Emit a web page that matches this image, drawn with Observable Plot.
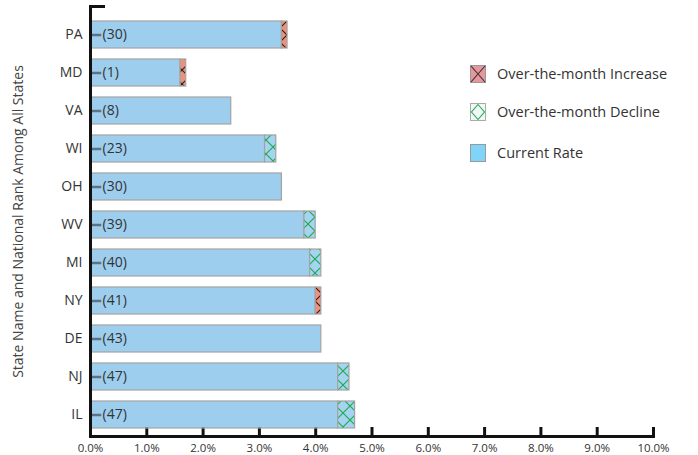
<!DOCTYPE html>
<html>
<head>
<meta charset="utf-8">
<script src="https://cdn.jsdelivr.net/npm/d3@7"></script>
<script src="https://cdn.jsdelivr.net/npm/@observablehq/plot@0.6"></script>
<style>
  body { margin: 0; background: #fff; font-family: "Open Sans", sans-serif; }
  #wrap { position: relative; width: 698px; height: 455px; }
  .legend-item { position: absolute; left: 470px; display: flex; align-items: center; font-size: 14.5px; color: #333; white-space: nowrap; }
  .legend-item svg { margin-right: 11px; display: block; }
</style>
</head>
<body>
<!-- hatch fills shared by the bars and the legend swatches -->
<svg width="0" height="0" style="position:absolute">
  <defs>
    <pattern id="hatch-up" patternUnits="userSpaceOnUse" width="14" height="14">
      <rect width="14" height="14" fill="#ef9079"></rect>
      <path d="M0,0L14,14M14,0L0,14" stroke="#222" stroke-width="1.1" fill="none"></path>
    </pattern>
    <pattern id="hatch-down" patternUnits="userSpaceOnUse" width="14" height="14">
      <rect width="14" height="14" fill="#a6d3f0"></rect>
      <path d="M0,0L14,14M14,0L0,14" stroke="#1aab4b" stroke-width="1.1" fill="none"></path>
    </pattern>
  </defs>
</svg>
<div id="wrap"></div>
<script>
// States in display order, their national rank, and unemployment rates (%)
const states   = ["PA", "MD", "VA", "WI", "OH", "WV", "MI", "NY", "DE", "NJ", "IL"];
const ranks    = [30, 1, 8, 23, 30, 39, 40, 41, 43, 47, 47];
const current  = [3.5, 1.7, 2.5, 3.1, 3.4, 3.8, 3.9, 4.1, 4.1, 4.4, 4.4];
const previous = [3.4, 1.6, 2.5, 3.3, 3.4, 4.0, 4.1, 4.0, 4.1, 4.6, 4.7];
const xTicks   = [0, 1, 2, 3, 4, 5, 6, 7, 8, 9, 10];
const legendLabels = ["Over-the-month Increase", "Over-the-month Decline", "Current Rate"];
const yLabel = "State Name and National Rank Among All States";

const rows = states.map((state, i) => ({
  state,
  rank: ranks[i],
  current: current[i],
  previous: previous[i],
  lo: Math.min(current[i], previous[i]),
  hi: Math.max(current[i], previous[i])
}));
const ups = rows.filter(d => d.current > d.previous);
const downs = rows.filter(d => d.current < d.previous);

const chart = Plot.plot({
  width: 698,
  height: 455,
  marginLeft: 90,
  marginRight: 45,
  marginTop: 6,
  marginBottom: 19,
  style: { fontFamily: "Open Sans, sans-serif", fontSize: "11px", color: "#333", background: "#fff" },
  x: { domain: [0, 10] },
  y: { domain: states, paddingInner: 0.282, paddingOuter: 0.154, align: 0.667 },
  marks: [
    // upward tick marks on the x axis (show through the translucent bars)
    Plot.ruleX(xTicks, { insetTop: 421, stroke: "#111", strokeWidth: 3 }),
    // current rate (or lower of the two months)
    Plot.barX(rows, { y: "state", x1: 0, x2: "lo", fill: "#5dade3", fillOpacity: 0.6, stroke: "#a3a3a3", strokeWidth: 1.2 }),
    // month-over-month change segments
    Plot.barX(ups, { y: "state", x1: "lo", x2: "hi", fill: "url(#hatch-up)", stroke: "#a3a3a3", strokeWidth: 1.2 }),
    Plot.barX(downs, { y: "state", x1: "lo", x2: "hi", fill: "url(#hatch-down)", stroke: "#a3a3a3", strokeWidth: 1.2 }),
    // short dashes leading into the rank labels
    Plot.ruleY(rows, { y: "state", x1: 0, x2: 0.2, stroke: "#5d7385", strokeWidth: 2.5 }),
    Plot.text(rows, { y: "state", x: 0, text: d => `(${d.rank})`, textAnchor: "start", dx: 12, fontSize: 14, fill: "#333" }),
    // axis lines
    Plot.frame({ anchor: "left", stroke: "#111", strokeWidth: 3 }),
    Plot.frame({ anchor: "bottom", stroke: "#111", strokeWidth: 3 }),
    Plot.frame({ anchor: "top", stroke: "#111", strokeWidth: 3, insetRight: 550 }),
    Plot.axisX(xTicks, { tickSize: 0, tickPadding: 7, tickFormat: d => d.toFixed(1) + "%", fontSize: 11.5, label: null }),
    Plot.axisY({ tickSize: 0, tickPadding: 8, fontSize: 14, label: null }),
    Plot.text([yLabel], { frameAnchor: "left", textAnchor: "middle", rotate: -90, dx: -72, fontSize: 14, fill: "#444" })
  ]
});

const wrap = document.getElementById("wrap");
wrap.appendChild(chart);

// legend swatches drawn over the empty right side of the plot
const swatches = [
  `<svg width="16" height="18"><rect x="0.5" y="0.5" width="15" height="17" fill="#e8969b" stroke="#999"/><path d="M1,1L15,17M15,1L1,17" stroke="#333" stroke-width="1.1"/></svg>`,
  `<svg width="16" height="18"><rect x="0.5" y="0.5" width="15" height="17" fill="#f3f6f6" stroke="#aaa"/><path d="M8,1.5L14.5,9L8,16.5L1.5,9Z" stroke="#1aab4b" stroke-width="1.1" fill="none"/></svg>`,
  `<svg width="16" height="18"><rect x="0.5" y="0.5" width="15" height="17" fill="#80d4f8" stroke="#999"/></svg>`
];
const legendTops = [64, 102, 143];
legendLabels.forEach((label, i) => {
  const item = document.createElement("div");
  item.className = "legend-item";
  item.style.top = legendTops[i] + "px";
  item.innerHTML = swatches[i] + `<span>${label}</span>`;
  wrap.appendChild(item);
});
</script>
</body>
</html>
